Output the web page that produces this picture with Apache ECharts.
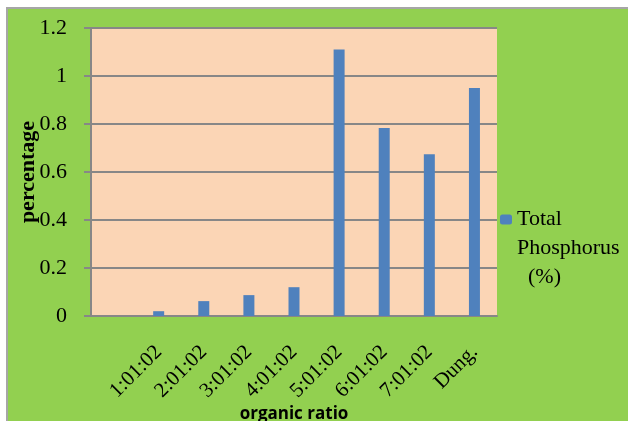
<!DOCTYPE html>
<html>
<head>
<meta charset="utf-8">
<script src="https://cdn.jsdelivr.net/npm/echarts@6/dist/echarts.min.js"></script>
<style>
  html, body { margin: 0; padding: 0; background: #ffffff; width: 628px; height: 421px; overflow: hidden; }
  #frame { position: absolute; left: 6px; top: 7px; border-left: 2px solid #a6a6a6; border-top: 2px solid #a6a6a6; }
  #chart { width: 622px; height: 414px; }
</style>
</head>
<body>
<div id="frame"><div id="chart"></div></div>
<script>
// Organic ratio treatments (the first slot of the axis is left blank)
const categories = ['', '1:01:02', '2:01:02', '3:01:02', '4:01:02', '5:01:02', '6:01:02', '7:01:02', 'Dung.'];
// Total phosphorus content, %
const phosphorus = [null, 0.02, 0.062, 0.087, 0.12, 1.11, 0.783, 0.674, 0.95];
const yTicks = { min: 0, max: 1.2, step: 0.2 };
const seriesName = 'Total Phosphorus (%)';

const serif = '"Liberation Serif", "DejaVu Serif", serif';
const gridGrey = '#878787';

const chart = echarts.init(document.getElementById('chart'), null, { renderer: 'canvas' });
chart.setOption({
  backgroundColor: '#92d050',
  animation: false,
  grid: {
    left: 83, right: 133, top: 19, bottom: 107,
    outerBoundsMode: 'none',
    show: true, backgroundColor: '#fbd5b5', borderWidth: 0
  },
  legend: {
    data: [seriesName],
    orient: 'vertical',
    left: 492,
    top: 138,
    padding: 0,
    itemWidth: 12,
    itemHeight: 10,
    itemGap: 4,
    // two blank lines first so the first text line sits level with the swatch
    formatter: () => '\n\nTotal\nPhosphorus\n  (%)',
    textStyle: {
      fontFamily: serif, fontSize: 22, color: '#000', lineHeight: 29
    }
  },
  xAxis: {
    type: 'category',
    data: categories,
    name: 'organic ratio',
    nameLocation: 'middle',
    nameMoveOverlap: false,
    nameGap: 90,
    nameTextStyle: { fontFamily: '"Open Sans", "Liberation Sans", sans-serif', fontWeight: 'bold', fontSize: 17, color: '#000' },
    axisLine: { lineStyle: { color: gridGrey, width: 2 } },
    axisTick: { show: false },
    axisLabel: {
      interval: 0, rotate: 45, margin: 33,
      fontFamily: serif, fontSize: 21, color: '#000'
    }
  },
  yAxis: {
    type: 'value',
    min: yTicks.min, max: yTicks.max, interval: yTicks.step,
    name: 'percentage',
    nameLocation: 'middle',
    nameMoveOverlap: false,
    nameRotate: 90,
    nameGap: 52,
    nameTextStyle: { fontFamily: serif, fontWeight: 'bold', fontSize: 22, color: '#000' },
    axisLine: { show: true, lineStyle: { color: gridGrey, width: 2 } },
    axisTick: { show: true, length: 7, lineStyle: { color: gridGrey, width: 2 } },
    axisLabel: { margin: 24, fontFamily: serif, fontSize: 22, color: '#000' },
    splitLine: { lineStyle: { color: gridGrey, width: 2 } }
  },
  series: [{
    name: seriesName,
    type: 'bar',
    data: phosphorus,
    barWidth: 11,
    itemStyle: { color: '#4f81bd' }
  }]
});
</script>
</body>
</html>
